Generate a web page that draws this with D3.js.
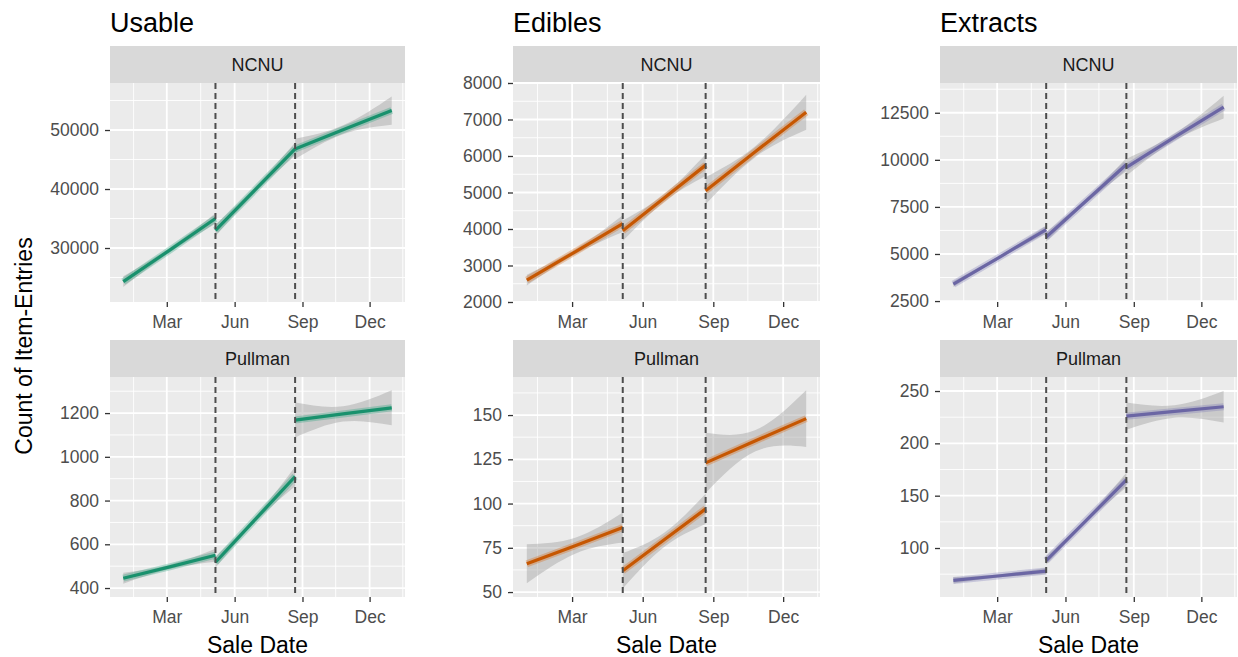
<!DOCTYPE html>
<html>
<head>
<meta charset="utf-8">
<script src="https://cdn.jsdelivr.net/npm/d3@7"></script>
<style>
body { margin: 0; background: #fff; }
text { font-family: "Liberation Sans", Arial, sans-serif; }
</style>
</head>
<body>
<script>
// Categorias e lojas
var categories = ["Usable", "Edibles", "Extracts"];
var stores = ["NCNU", "Pullman"];
var colors = ["#1B9E77", "#D95F02", "#7570B3"];

// Datas: ticks do eixo x, linhas tracejadas e segmentos (inicio, meio, fim)
var monthTicks = ["2017-03-01", "2017-06-01", "2017-09-01", "2017-12-01"];
var monthLabels = ["Mar", "Jun", "Sep", "Dec"];
var breakDates = ["2017-05-06", "2017-08-22"];
var segDates = [
	["2017-01-01", "2017-03-05", "2017-05-06"],
	["2017-05-06", "2017-06-29", "2017-08-22"],
	["2017-08-22", "2017-10-26", "2017-12-31"]
];

// Valores ajustados [inicio, meio, fim] por segmento e meia-largura do intervalo
var usableNcnuFit = [[24300, 29650, 35000], [33000, 39900, 46800], [46800, 50050, 53300]];
var usableNcnuCi = [[900, 400, 900], [1000, 500, 1100], [1700, 750, 2400]];
var usablePullmanFit = [[445, 497, 550], [518, 714, 910], [1168, 1196, 1224]];
var usablePullmanCi = [[25, 10, 30], [25, 12, 45], [80, 35, 80]];
var ediblesNcnuFit = [[2600, 3375, 4150], [3950, 4850, 5750], [5050, 6125, 7200]];
var ediblesNcnuCi = [[150, 70, 230], [280, 100, 300], [370, 150, 480]];
var ediblesPullmanFit = [[66, 76.2, 86.5], [62, 79.5, 97], [123, 135.5, 148]];
var ediblesPullmanCi = [[11, 4.5, 8.5], [10, 4, 8.5], [17, 6, 16]];
var extractsNcnuFit = [[3400, 4850, 6300], [5900, 7825, 9750], [9600, 11200, 12800]];
var extractsNcnuCi = [[150, 80, 200], [250, 120, 350], [450, 180, 600]];
var extractsPullmanFit = [[69, 73.5, 78], [88, 126.5, 165], [226, 230.5, 235]];
var extractsPullmanCi = [[3, 1.5, 3], [4, 2, 7], [13, 6, 15]];

// Escalas y (dominio e ticks) de cada painel
var yDomains = [
	[[20850, 57970], [359, 1365]],
	[[2000, 8000], [47.2, 171.5]],
	[[2450, 14080], [53.2, 263.4]]
];
var yTicks = [
	[[30000, 40000, 50000], [400, 600, 800, 1000, 1200]],
	[[2000, 3000, 4000, 5000, 6000, 7000, 8000], [50, 75, 100, 125, 150]],
	[[2500, 5000, 7500, 10000, 12500], [100, 150, 200, 250]]
];

var fits = [[usableNcnuFit, usablePullmanFit], [ediblesNcnuFit, ediblesPullmanFit], [extractsNcnuFit, extractsPullmanFit]];
var cis = [[usableNcnuCi, usablePullmanCi], [ediblesNcnuCi, ediblesPullmanCi], [extractsNcnuCi, extractsPullmanCi]];

// Layout
var width = 1238, height = 657;
var colX = [[110, 405], [513, 820], [940, 1237]];
var rows = [{strip: 46, top: 83, bottom: 302}, {strip: 340, top: 377, bottom: 597}];
var xDomain = [new Date(2016, 11, 14), new Date(2018, 0, 18)];
var xMinor = ["2017-01-15", "2017-04-16", "2017-07-16", "2017-10-16", "2018-01-15"];
var parse = d3.timeParse("%Y-%m-%d");

var svg = d3.select("body").append("svg")
	.attr("width", width)
	.attr("height", height);

svg.append("text")
	.attr("transform", "translate(32,346) rotate(-90)")
	.attr("text-anchor", "middle")
	.attr("font-size", 23)
	.attr("fill", "#000")
	.text("Count of Item-Entries");

categories.forEach(function(cat, c) {
	var x0 = colX[c][0], x1 = colX[c][1];
	var x = d3.scaleTime().domain(xDomain).range([x0, x1]);

	svg.append("text")
		.attr("x", x0)
		.attr("y", 32)
		.attr("font-size", 27)
		.attr("fill", "#000")
		.text(cat);

	svg.append("text")
		.attr("x", (x0 + x1) / 2)
		.attr("y", 653)
		.attr("text-anchor", "middle")
		.attr("font-size", 23)
		.attr("fill", "#000")
		.text("Sale Date");

	stores.forEach(function(store, s) {
		var r = rows[s];
		var y = d3.scaleLinear().domain(yDomains[c][s]).range([r.bottom, r.top]);
		var g = svg.append("g");
		var clipId = "clip" + c + s;
		g.append("clipPath").attr("id", clipId)
			.append("rect").attr("x", x0).attr("y", r.top).attr("width", x1 - x0).attr("height", r.bottom - r.top);

		// Faixa do painel
		g.append("rect").attr("x", x0).attr("y", r.strip).attr("width", x1 - x0).attr("height", r.top - r.strip)
			.attr("fill", "#d9d9d9");
		g.append("text")
			.attr("x", (x0 + x1) / 2)
			.attr("y", (r.strip + r.top) / 2 + 6.5)
			.attr("text-anchor", "middle")
			.attr("font-size", 18)
			.attr("fill", "#1a1a1a")
			.text(store);

		// Fundo e grades
		g.append("rect").attr("x", x0).attr("y", r.top).attr("width", x1 - x0).attr("height", r.bottom - r.top)
			.attr("fill", "#ebebeb");
		var ticks = yTicks[c][s];
		var step = ticks[1] - ticks[0];
		var yMinor = [ticks[0] - step / 2].concat(ticks.map(function(t) { return t + step / 2; }))
			.filter(function(v) { return v > yDomains[c][s][0] && v < yDomains[c][s][1]; });
		g.selectAll(".ymin").data(yMinor).enter().append("line")
			.attr("x1", x0).attr("x2", x1)
			.attr("y1", function(d) { return y(d); }).attr("y2", function(d) { return y(d); })
			.attr("stroke", "#fff").attr("stroke-width", 0.9);
		g.selectAll(".xmin").data(xMinor).enter().append("line")
			.attr("x1", function(d) { return x(parse(d)); }).attr("x2", function(d) { return x(parse(d)); })
			.attr("y1", r.top).attr("y2", r.bottom)
			.attr("clip-path", "url(#" + clipId + ")")
			.attr("stroke", "#fff").attr("stroke-width", 0.9);
		g.selectAll(".ymaj").data(ticks).enter().append("line")
			.attr("x1", x0).attr("x2", x1)
			.attr("y1", function(d) { return y(d); }).attr("y2", function(d) { return y(d); })
			.attr("stroke", "#fff").attr("stroke-width", 1.8);
		g.selectAll(".xmaj").data(monthTicks).enter().append("line")
			.attr("x1", function(d) { return x(parse(d)); }).attr("x2", function(d) { return x(parse(d)); })
			.attr("y1", r.top).attr("y2", r.bottom)
			.attr("stroke", "#fff").attr("stroke-width", 1.8);

		// Eixos
		var yAxis = g.append("g")
			.attr("transform", "translate(" + x0 + ",0)")
			.call(d3.axisLeft(y).tickValues(ticks).tickSize(5).tickPadding(6).tickFormat(d3.format("d")));
		var xAxis = g.append("g")
			.attr("transform", "translate(0," + r.bottom + ")")
			.call(d3.axisBottom(x).tickValues(monthTicks.map(parse)).tickSize(5).tickPadding(9)
				.tickFormat(function(d, i) { return monthLabels[i]; }));
		[yAxis, xAxis].forEach(function(a) {
			a.select(".domain").remove();
			a.selectAll(".tick line").attr("stroke", "#333").attr("stroke-width", 1.3);
			a.selectAll(".tick text").attr("fill", "#4d4d4d").attr("font-size", 17.5)
				.attr("font-family", "Liberation Sans, Arial, sans-serif");
		});

		// Intervalos, linhas e quebras
		var pg = g.append("g").attr("clip-path", "url(#" + clipId + ")");
		var area = d3.area()
			.x(function(d) { return x(d.date); })
			.y0(function(d) { return y(d.fit - d.ci); })
			.y1(function(d) { return y(d.fit + d.ci); })
			.curve(d3.curveNatural);
		var line = d3.line()
			.x(function(d) { return x(d.date); })
			.y(function(d) { return y(d.fit); });
		var segs = fits[c][s].map(function(f, k) {
			return f.map(function(v, j) {
				return {date: parse(segDates[k][j]), fit: v, ci: cis[c][s][k][j]};
			});
		});
		pg.selectAll(".band").data(segs).enter().append("path")
			.attr("d", area)
			.attr("fill", "#999").attr("fill-opacity", 0.4);
		pg.selectAll(".halo").data(segs).enter().append("path")
			.attr("d", line)
			.attr("fill", "none").attr("stroke", colors[c]).attr("stroke-opacity", 0.3).attr("stroke-width", 7);
		pg.selectAll(".fit").data(segs).enter().append("path")
			.attr("d", line)
			.attr("fill", "none").attr("stroke", d3.color(colors[c]).darker(0.25)).attr("stroke-width", 3.2);
		pg.selectAll(".brk").data(breakDates).enter().append("line")
			.attr("x1", function(d) { return x(parse(d)); }).attr("x2", function(d) { return x(parse(d)); })
			.attr("y1", r.top).attr("y2", r.bottom)
			.attr("stroke", "#4d4d4d").attr("stroke-width", 2).attr("stroke-dasharray", "6,4");
	});
});
</script>
</body>
</html>
